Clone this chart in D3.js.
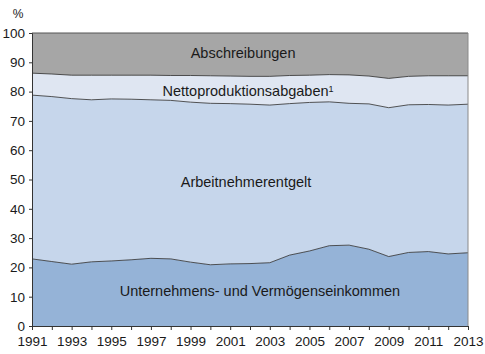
<!DOCTYPE html>
<html lang="de">
<head>
  <meta charset="utf-8">
  <title>Einkommensverteilung</title>
  <script src="https://cdnjs.cloudflare.com/ajax/libs/d3/7.6.1/d3.min.js"></script>
  <style>
    body { margin: 0; background: #fff; }
    text { font-family: "Liberation Sans", Arial, sans-serif; fill: #1a1a1a; }
  </style>
</head>
<body>
  <div id="chart"></div>
  <script>
    // data (shares in %, stacked bottom to top)
    const years = d3.range(1991, 2014);
    const unternehmen = [22.9, 22.0, 21.1, 21.9, 22.2, 22.6, 23.1, 22.9, 21.8, 20.9, 21.2, 21.3,
      21.6, 24.2, 25.6, 27.4, 27.6, 26.2, 23.7, 25.1, 25.4, 24.6, 25.0];
    const arbeitnehmer = [55.9, 56.3, 56.5, 55.3, 55.3, 54.8, 54.1, 54.1, 54.6, 55.1, 54.7, 54.4,
      53.8, 51.7, 50.7, 49.1, 48.4, 49.6, 50.8, 50.4, 50.2, 50.8, 50.7];
    const netto = [7.5, 7.7, 8.0, 8.4, 8.1, 8.2, 8.4, 8.5, 9.1, 9.4, 9.4, 9.5,
      9.8, 9.6, 9.3, 9.3, 9.7, 9.5, 10.0, 9.7, 9.8, 10.0, 9.7];
    const abschreibungen = [13.7, 14.0, 14.4, 14.4, 14.4, 14.4, 14.4, 14.5, 14.5, 14.6, 14.7, 14.8,
      14.8, 14.5, 14.4, 14.2, 14.3, 14.7, 15.5, 14.8, 14.6, 14.6, 14.6];
    const seriesKeys = ['unternehmen', 'arbeitnehmer', 'netto', 'abschreibungen'];
    const seriesLabels = ['Unternehmens- und Vermögenseinkommen', 'Arbeitnehmerentgelt',
      'Nettoproduktionsabgaben', 'Abschreibungen'];
    const yTicks = d3.range(0, 101, 10);
    const xLabelYears = d3.range(1991, 2014, 2);

    // label anchor points (year, value)
    const labelYears = [2002.5, 2001.8, 2001.9, 2001.65];
    const labelValues = [12.05, 49.2, 80.3, 93.1];

    const colors = ['#95b3d7', '#c6d6eb', '#dfe6f2', '#a6a6a6'];

    const width = 485, height = 354;
    const margin = { top: 33, right: 17, bottom: 28, left: 32 };
    const innerW = width - margin.left - margin.right;
    const innerH = height - margin.top - margin.bottom;

    const table = years.map((y, i) => ({
      year: y,
      unternehmen: unternehmen[i],
      arbeitnehmer: arbeitnehmer[i],
      netto: netto[i],
      abschreibungen: abschreibungen[i]
    }));

    const stacked = d3.stack().keys(seriesKeys)(table);

    const svg = d3.select('#chart')
      .append('svg')
      .attr('width', width)
      .attr('height', height);

    const g = svg.append('g')
      .attr('transform', `translate(${margin.left}, ${margin.top})`);

    const xScale = d3.scaleLinear()
      .domain([1991, 2013])
      .range([0, innerW]);

    const yScale = d3.scaleLinear()
      .domain([0, 100])
      .range([innerH, 0]);

    const area = d3.area()
      .x(d => xScale(d.data.year))
      .y0(d => yScale(d[0]))
      .y1(d => yScale(d[1]));

    const line = d3.line()
      .x(d => xScale(d.data.year))
      .y(d => yScale(d[1]));

    // areas
    g.selectAll('path.area')
      .data(stacked)
      .enter()
      .append('path')
      .attr('class', 'area')
      .attr('d', area)
      .attr('fill', (d, i) => colors[i]);

    // boundary lines
    g.selectAll('path.edge')
      .data(stacked.slice(0, 3))
      .enter()
      .append('path')
      .attr('class', 'edge')
      .attr('d', line)
      .attr('fill', 'none')
      .attr('stroke', '#2b2b2b')
      .attr('stroke-width', 0.8);

    // frame top / right
    g.append('line')
      .attr('x1', 0).attr('x2', innerW)
      .attr('y1', yScale(100)).attr('y2', yScale(100))
      .attr('stroke', '#555').attr('stroke-width', 1);
    g.append('line')
      .attr('x1', innerW).attr('x2', innerW)
      .attr('y1', 0).attr('y2', innerH)
      .attr('stroke', '#8a8a8a').attr('stroke-width', 1);

    // axes
    const xAxis = d3.axisBottom(xScale)
      .tickValues(years)
      .tickSize(4)
      .tickPadding(6)
      .tickFormat(d => xLabelYears.includes(d) ? d : '');

    const yAxis = d3.axisLeft(yScale)
      .tickValues(yTicks)
      .tickSize(3)
      .tickPadding(4)
      .tickFormat(d3.format('d'));

    const gx = g.append('g')
      .attr('transform', `translate(0, ${innerH})`)
      .call(xAxis);
    gx.select('.domain').attr('stroke', '#333');
    gx.selectAll('.tick line').attr('stroke', '#333');
    gx.selectAll('.tick text')
      .style('font-size', '13.5px')
      .style('font-family', '"Liberation Sans", Arial, sans-serif')
      .attr('fill', '#1a1a1a');

    const gy = g.append('g').call(yAxis);
    gy.select('.domain').attr('stroke', '#333');
    gy.selectAll('.tick line').attr('stroke', '#333');
    gy.selectAll('.tick text')
      .style('font-size', '13.5px')
      .style('font-family', '"Liberation Sans", Arial, sans-serif')
      .attr('fill', '#1a1a1a');

    svg.append('text')
      .attr('x', 18)
      .attr('y', 18)
      .attr('text-anchor', 'middle')
      .style('font-size', '12px')
      .text('%');

    // series labels
    const labels = g.selectAll('text.series')
      .data(seriesLabels)
      .enter()
      .append('text')
      .attr('class', 'series')
      .attr('x', (d, i) => xScale(labelYears[i]))
      .attr('y', (d, i) => yScale(labelValues[i]))
      .attr('text-anchor', 'middle')
      .attr('dy', '0.35em')
      .style('font-size', '14.5px')
      .text(d => d);

    labels.filter((d, i) => i === 2)
      .append('tspan')
      .attr('dy', '-0.45em')
      .style('font-size', '9px')
      .text('1');
  </script>
</body>
</html>
